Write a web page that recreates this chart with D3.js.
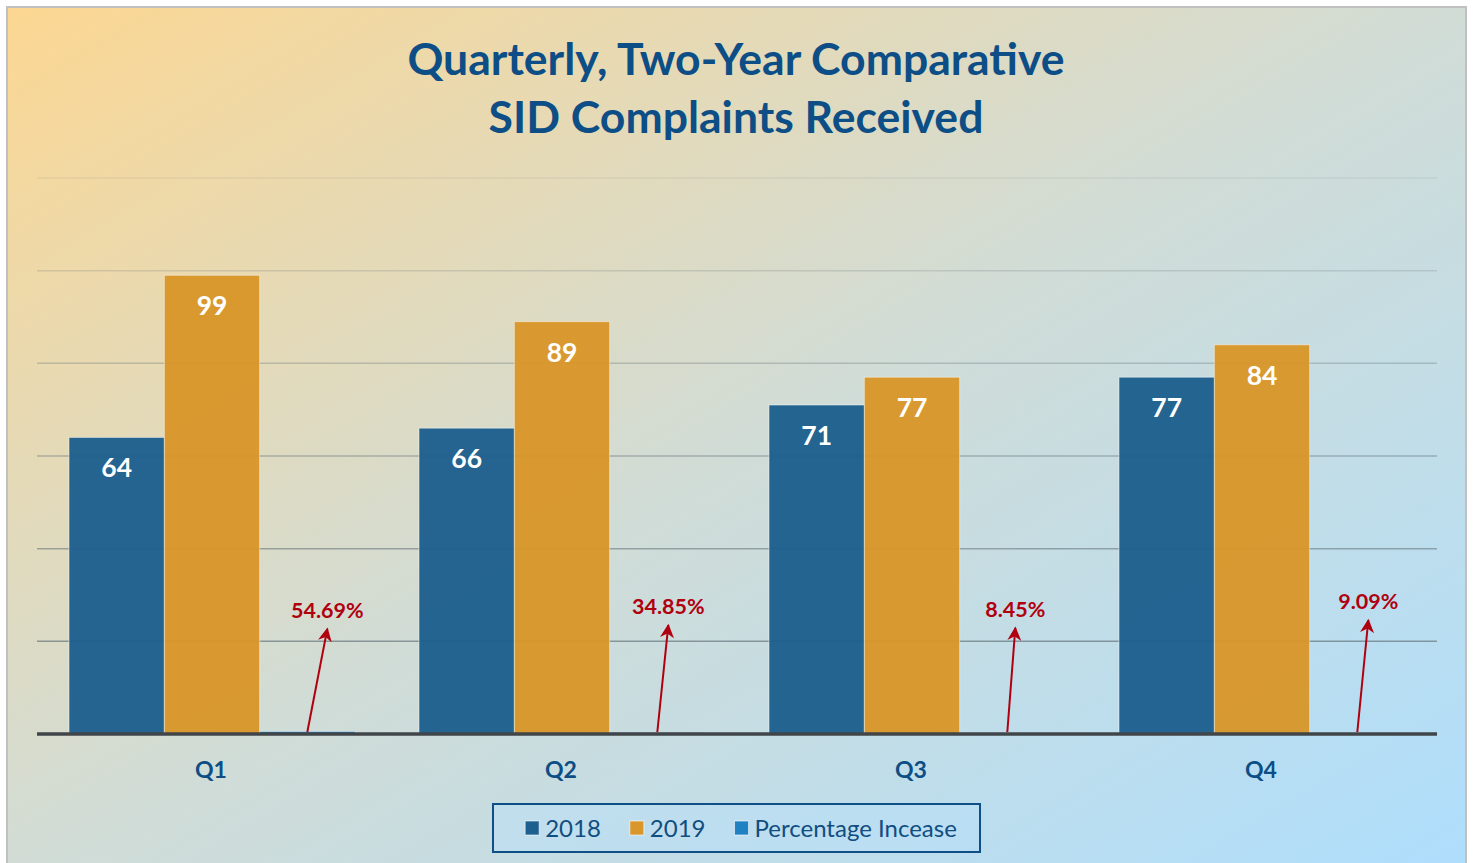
<!DOCTYPE html>
<html>
<head>
<meta charset="utf-8">
<script src="https://cdn.jsdelivr.net/npm/d3@7"></script>
<style>
  body { margin: 0; background: #fff; }
  text { font-family: Lato, "Open Sans", sans-serif; }
</style>
</head>
<body>
<div id="chart"></div>
<script>
// Data
var quarters = ["Q1", "Q2", "Q3", "Q4"];
var seriesNames = ["2018", "2019", "Percentage Incease"];
var values2018 = [64, 66, 71, 77];
var values2019 = [99, 89, 77, 84];
var pctIncrease = [0.5469, 0.3485, 0.0845, 0.0909];
var pctLabels = ["54.69%", "34.85%", "8.45%", "9.09%"];
var yTicks = [0, 20, 40, 60, 80, 100, 120];

// Layout
var W = 1473, H = 863;
var plot = { left: 37, right: 1437, top: 178, bottom: 734 };
var colors = ["#1d5f8e", "#d9962a", "#1f80c2"];
var titleColor = "#0c4e85";
var pctRed = "#b0000f";
// where each arrow tip sits relative to the little percentage bar
var arrowNudge = [{ dx: 20, y: 22.7 }, { dx: 11, y: 23.5 }, { dx: 8, y: 22.9 }, { dx: 11, y: 24.6 }];

var svg = d3.select("#chart").append("svg")
    .attr("width", W)
    .attr("height", H);

var defs = svg.append("defs");
var grad = defs.append("linearGradient")
    .attr("id", "bg")
    .attr("x1", 0).attr("y1", 0).attr("x2", 1).attr("y2", 1);
grad.append("stop").attr("offset", "0%").attr("stop-color", "#fcd792");
grad.append("stop").attr("offset", "50%").attr("stop-color", "#d1dcd6");
grad.append("stop").attr("offset", "100%").attr("stop-color", "#aedefd");

defs.append("marker")
    .attr("id", "arrow")
    .attr("viewBox", "0 0 10 10")
    .attr("refX", 9).attr("refY", 5)
    .attr("markerWidth", 7).attr("markerHeight", 7)
    .attr("markerUnits", "strokeWidth")
    .attr("orient", "auto")
  .append("path")
    .attr("d", "M0,0 L10,5 L0,10 L3,5 Z")
    .attr("fill", pctRed);

// background panel
svg.append("rect")
    .attr("x", 7).attr("y", 7)
    .attr("width", 1459).attr("height", 870)
    .attr("fill", "url(#bg)")
    .attr("stroke", "#c0c0c0")
    .attr("stroke-width", 2);

// Title
var title = svg.append("text")
    .attr("text-anchor", "middle")
    .attr("font-size", 44.5)
    .attr("font-weight", 700)
    .attr("fill", titleColor);
title.append("tspan").attr("x", 736).attr("y", 75).text("Quarterly, Two-Year Comparative");
title.append("tspan").attr("x", 736).attr("y", 133).text("SID Complaints Received");

// Scales
var x0 = d3.scaleBand()
    .domain(quarters)
    .range([plot.left, plot.right]);

var x1 = d3.scaleBand()
    .domain(seriesNames)
    .range([0, x0.bandwidth()])
    .paddingInner(0)
    .paddingOuter(0.336);

var y = d3.scaleLinear()
    .domain([0, 120])
    .range([plot.bottom, plot.top]);

// Gridlines
svg.append("g")
    .selectAll("line")
    .data(yTicks.filter(function(d) { return d > 0; }))
    .join("line")
    .attr("x1", plot.left).attr("x2", plot.right)
    .attr("y1", function(d) { return y(d); })
    .attr("y2", function(d) { return y(d); })
    .attr("stroke", "#5f6d75")
    .attr("stroke-width", 1.5)
    .attr("stroke-opacity", function(d) { return 0.75 - d / 120 * 0.65; });

// Bars
var rows = quarters.map(function(q, i) {
    return { q: q, vals: [values2018[i], values2019[i], pctIncrease[i]] };
});

var groups = svg.append("g")
    .selectAll("g")
    .data(rows)
    .join("g")
    .attr("transform", function(d) { return "translate(" + x0(d.q) + ",0)"; });

groups.selectAll("rect")
    .data(function(d) {
        return d.vals.map(function(v, j) { return { key: seriesNames[j], v: v, j: j }; });
    })
    .join("rect")
    .attr("x", function(d) { return x1(d.key); })
    .attr("width", x1.bandwidth())
    .attr("y", function(d) { return y(d.v); })
    .attr("height", function(d) { return y(0) - y(d.v); })
    .attr("fill", function(d) { return colors[d.j]; })
    .attr("fill-opacity", 0.96)
    .attr("stroke", "rgba(255,255,255,0.45)")
    .attr("stroke-width", 1);

// value labels inside bars
groups.selectAll("text.val")
    .data(function(d) {
        return d.vals.slice(0, 2).map(function(v, j) { return { key: seriesNames[j], v: v }; });
    })
    .join("text")
    .attr("class", "val")
    .attr("x", function(d) { return x1(d.key) + x1.bandwidth() / 2; })
    .attr("y", function(d) { return y(d.v) + 40; })
    .attr("text-anchor", "middle")
    .attr("font-size", 26.5)
    .attr("font-weight", 700)
    .attr("fill", "#ffffff")
    .text(function(d) { return d.v; });

// Baseline
svg.append("line")
    .attr("x1", plot.left).attr("x2", plot.right)
    .attr("y1", y(0)).attr("y2", y(0))
    .attr("stroke", "#404549")
    .attr("stroke-width", 3.5);

// Percentage arrows and labels
quarters.forEach(function(q, i) {
    var cx = x0(q) + x1(seriesNames[2]) + x1.bandwidth() / 2;
    var tipX = cx + arrowNudge[i].dx;
    var tipY = y(arrowNudge[i].y);
    svg.append("line")
        .attr("x1", cx).attr("y1", y(0) - 2)
        .attr("x2", tipX).attr("y2", tipY)
        .attr("stroke", pctRed)
        .attr("stroke-width", 2)
        .attr("marker-end", "url(#arrow)");
    svg.append("text")
        .attr("x", tipX)
        .attr("y", tipY - 11)
        .attr("text-anchor", "middle")
        .attr("font-size", 21.5)
        .attr("font-weight", 700)
        .attr("fill", pctRed)
        .text(pctLabels[i]);
});

// X axis labels
svg.append("g")
    .selectAll("text")
    .data(quarters)
    .join("text")
    .attr("x", function(d) { return x0(d) + x0.bandwidth() / 2 - 1; })
    .attr("y", 778)
    .attr("text-anchor", "middle")
    .attr("font-size", 23)
    .attr("font-weight", 700)
    .attr("fill", titleColor)
    .text(function(d) { return d; });

// Legend
var legend = svg.append("g");
legend.append("rect")
    .attr("x", 493).attr("y", 804)
    .attr("width", 487).attr("height", 48)
    .attr("fill", "rgba(185,225,250,0.45)")
    .attr("stroke", "#0e4f86")
    .attr("stroke-width", 2);

var items = legend.append("g");
var cursor = 0;
seriesNames.forEach(function(name, i) {
    var it = items.append("g").attr("transform", "translate(" + cursor + ",0)");
    it.append("rect")
        .attr("x", 0).attr("y", 821)
        .attr("width", 14).attr("height", 14)
        .attr("fill", colors[i])
        .attr("stroke", "rgba(255,255,255,0.6)")
        .attr("stroke-width", 1);
    var t = it.append("text")
        .attr("x", 20).attr("y", 836.5)
        .attr("font-size", 24)
        .attr("fill", "#104d80")
        .text(name);
    cursor += 20 + t.node().getComputedTextLength() + 29;
});
var contentW = cursor - 29;
items.attr("transform", "translate(" + (741 - contentW / 2) + ",0)");
</script>
</body>
</html>
